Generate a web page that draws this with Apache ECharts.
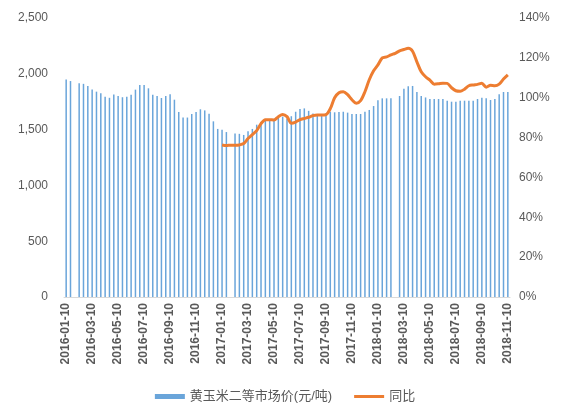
<!DOCTYPE html>
<html>
<head>
<meta charset="utf-8">
<script src="https://cdn.jsdelivr.net/npm/echarts@6/dist/echarts.min.js"></script>
<style>
    html, body { margin: 0; padding: 0; background: #fff; }
    #chart { width: 570px; height: 419px; }
</style>
</head>
<body>
<div id="chart"></div>
<script>
// 旬度日期：每月10、20、30日（2月为28日），2016-01-10 至 2018-11-10
var dayList = [10, 20, 30];
var categories = [];
(function () {
    for (var y = 2016; y <= 2018; y++) {
        for (var m = 1; m <= 12; m++) {
            for (var k = 0; k < dayList.length; k++) {
                if (y === 2018 && (m > 11 || (m === 11 && k > 0))) {
                    return;
                }
                var d = (m === 2 && dayList[k] === 30) ? 28 : dayList[k];
                categories.push(y + '-' + (m < 10 ? '0' + m : m) + '-' + d);
            }
        }
    }
})();

// 黄玉米二等市场价（元/吨），春节期间无报价
var priceData = [
    1950, 1935, null, 1915, 1910, 1890, 1860, 1840, 1825, 1795,
    1785, 1815, 1800, 1790, 1795, 1813, 1858, 1900, 1900, 1870,
    1813, 1800, 1783, 1800, 1816, 1768, 1658, 1608, 1608, 1640,
    1658, 1682, 1672, 1642, 1574, 1506, 1498, 1478, null, 1466,
    1462, 1452, 1486, 1506, 1544, 1562, 1580, 1592, 1598, 1604,
    1616, 1600, 1620, 1660, 1684, 1690, 1668, 1645, 1640, 1640,
    1645, 1660, 1655, 1658, 1660, 1652, 1640, 1640, 1640, 1660,
    1676, 1711, 1762, 1780, 1780, 1780, null, 1801, 1867, 1888,
    1891, 1838, 1801, 1788, 1774, 1774, 1774, 1774, 1759, 1750,
    1750, 1759, 1759, 1759, 1759, 1774, 1786, 1780, 1765, 1774,
    1816, 1837, 1837
];

// 同比（%），自2017-01-10起
var yoyData = [
    null, null, null, null, null, null, null, null, null, null,
    null, null, null, null, null, null, null, null, null, null,
    null, null, null, null, null, null, null, null, null, null,
    null, null, null, null, null, null, 76.3, 76.0, 76.2, 76.1,
    76.3, 77.0, 79.5, 81.5, 83.5, 87.0, 89.0, 89.0, 88.8, 90.5,
    91.6, 90.5, 87.2, 87.8, 89.0, 89.6, 90.2, 91.0, 91.3, 91.3,
    91.5, 94.5, 100.0, 102.5, 103.0, 101.5, 99.0, 97.2, 98.5, 103.0,
    109.0, 113.5, 116.5, 120.0, 120.5, 121.5, 122.3, 123.5, 124.2, 124.8,
    123.3, 118.0, 113.0, 110.5, 108.8, 106.8, 107.0, 107.3, 107.2, 105.0,
    103.5, 103.2, 104.3, 106.0, 106.4, 106.7, 107.2, 105.3, 106.2, 106.0,
    106.8, 109.4, 111.5
];

var seriesNames = ['黄玉米二等市场价(元/吨)', '同比'];

var labelColor = '#595959';
var fontFamily = '"Liberation Sans", "Noto Sans CJK SC", sans-serif';

var chart = echarts.init(document.getElementById('chart'));

var option = {
    animation: false,
    textStyle: { fontFamily: fontFamily },
    grid: {
        left: 64,
        right: 60,
        top: 18,
        bottom: 122,
        containLabel: false
    },
    legend: {
        bottom: 11,
        left: 'center',
        itemWidth: 30,
        itemHeight: 5,
        itemGap: 22,
        textStyle: { color: labelColor, fontSize: 13, fontFamily: fontFamily },
        data: [
            { name: seriesNames[0], icon: 'rect' },
            { name: seriesNames[1], icon: 'path://M0,0 L30,0 L30,3 L0,3 Z' }
        ]
    },
    xAxis: {
        type: 'category',
        data: categories,
        boundaryGap: true,
        axisLine: { lineStyle: { color: '#D9D9D9' } },
        axisTick: { alignWithLabel: true, interval: 5, length: 4, lineStyle: { color: '#D9D9D9' } },
        axisLabel: {
            interval: 5,
            rotate: 90,
            margin: 6,
            color: labelColor,
            fontSize: 12,
            fontWeight: 'bold'
        }
    },
    yAxis: [{
        type: 'value',
        min: 0,
        max: 2500,
        interval: 500,
        axisLine: { show: false },
        axisTick: { show: false },
        splitLine: { show: false },
        axisLabel: {
            margin: 16,
            color: labelColor,
            fontSize: 12,
            formatter: function (v) {
                return v.toString().replace(/\B(?=(\d{3})+(?!\d))/g, ',');
            }
        }
    }, {
        type: 'value',
        min: 0,
        max: 140,
        interval: 20,
        axisLine: { show: false },
        axisTick: { show: false },
        splitLine: { show: false },
        axisLabel: {
            margin: 9,
            color: labelColor,
            fontSize: 12,
            formatter: '{value}%'
        }
    }],
    series: [{
        name: seriesNames[0],
        type: 'bar',
        yAxisIndex: 0,
        data: priceData,
        barWidth: 1.5,
        itemStyle: { color: '#6AA5DA' }
    }, {
        name: seriesNames[1],
        type: 'line',
        yAxisIndex: 1,
        data: yoyData,
        symbol: 'none',
        smooth: 0.3,
        connectNulls: false,
        lineStyle: { color: '#ED7D31', width: 3 },
        itemStyle: { color: '#ED7D31' }
    }]
};

chart.setOption(option);
</script>
</body>
</html>
